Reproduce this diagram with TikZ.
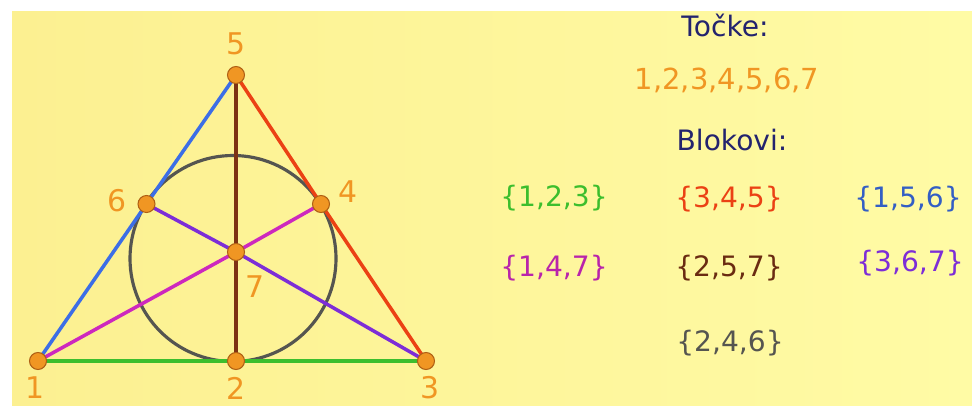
\documentclass[tikz,border=0pt]{standalone}
\usepackage{fontspec}
\setmainfont{DejaVu Sans}
\usepackage{xcolor}
\usepackage{tikz}
\usetikzlibrary{positioning,backgrounds}

\definecolor{bgleft}{RGB}{252,240,145}
\definecolor{bgright}{RGB}{255,251,165}
\definecolor{tockaorange}{RGB}{240,150,35}
\definecolor{tockarub}{RGB}{175,95,20}
\definecolor{naslovplava}{RGB}{35,35,110}
\definecolor{lzelena}{RGB}{60,190,45}
\definecolor{lplava}{RGB}{60,110,230}
\definecolor{lcrvena}{RGB}{235,65,20}
\definecolor{lsmeda}{RGB}{125,50,20}
\definecolor{lmagenta}{RGB}{205,40,190}
\definecolor{lljubicasta}{RGB}{125,45,215}
\definecolor{lsiva}{RGB}{85,85,80}

\begin{document}
\begin{tikzpicture}[line cap=round, line join=round,
		tocka/.style={circle, fill=tockaorange, draw=tockarub, line width=0.6pt, inner sep=0pt, minimum size=0.34cm},
		oznaka/.style={text=tockaorange, font=\fontsize{17}{20}\selectfont},
		pravac/.style={line width=2pt},
		blok/.style={font=\fontsize{16}{19}\selectfont},
		naslov/.style={text=naslovplava, font=\fontsize{16}{19}\selectfont}]
		\useasboundingbox (0,0) rectangle (19.44,8.1);
		
		\node[tocka] (p1) at (0.76,0.88) {};
		\node[tocka] (p2) at (4.72,0.88) {};
		\node[tocka] (p3) at (8.52,0.88) {};
		\node[tocka] (p5) at (4.72,6.6) {};
		\node[tocka] (p6) at (2.93,4.02) {};
		\node[tocka] (p4) at (6.42,4.02) {};
		\node[tocka] (p7) at (4.72,3.06) {};
		
		\begin{pgfonlayer}{background}
			\fill[white] (0,0) rectangle (19.44,8.1);
			\shade[left color=bgleft, right color=bgright] (0.24,0) rectangle (19.44,7.88);
			\draw[line width=1.8pt, lsiva] (4.66,2.93) circle (2.06);
			\draw[pravac, lzelena] (p1.center) -- (p2.center) -- (p3.center);
			\draw[pravac, lplava] (p1.center) -- (p6.center) -- (p5.center);
			\draw[pravac, lcrvena] (p5.center) -- (p4.center) -- (p3.center);
			\draw[pravac, lsmeda] (p5.center) -- (p7.center) -- (p2.center);
			\draw[pravac, lmagenta] (p1.center) -- (p7.center) -- (p4.center);
			\draw[pravac, lljubicasta] (p6.center) -- (p7.center) -- (p3.center);
		\end{pgfonlayer}
		
		\node[oznaka] (o1) at (0.7,0.34) {1};
		\node[oznaka] (o2) at (4.72,0.34) {2};
		\node[oznaka] (o3) at (8.6,0.34) {3};
		\node[oznaka] (o4) at (6.96,4.26) {4};
		\node[oznaka] (o5) at (4.72,7.22) {5};
		\node[oznaka] (o6) at (2.34,4.08) {6};
		\node[oznaka] (o7) at (5.1,2.36) {7};
		
		\node[naslov] (tocke) at (14.5,7.6) {Točke:};
		\node[oznaka, font=\fontsize{16.5}{19}\selectfont] (popis) at (14.54,6.5) {1,2,3,4,5,6,7};
		\node[naslov] (blokovi) at (14.64,5.3) {Blokovi:};
		
		\node[blok, text=lzelena] (b123) at (11.08,4.14) {\{1,2,3\}};
		\node[blok, text=lcrvena] (b345) at (14.58,4.12) {\{3,4,5\}};
		\node[blok, text=lplava!85!black] (b156) at (18.16,4.12) {\{1,5,6\}};
		\node[blok, text=lmagenta!90!black] (b147) at (11.08,2.74) {\{1,4,7\}};
		\node[blok, text=lsmeda!85!black] (b257) at (14.58,2.74) {\{2,5,7\}};
		\node[blok, text=lljubicasta] (b367) at (18.2,2.84) {\{3,6,7\}};
		\node[blok, text=lsiva] (b246) at (14.6,1.24) {\{2,4,6\}};
	\end{tikzpicture}
\end{document}
